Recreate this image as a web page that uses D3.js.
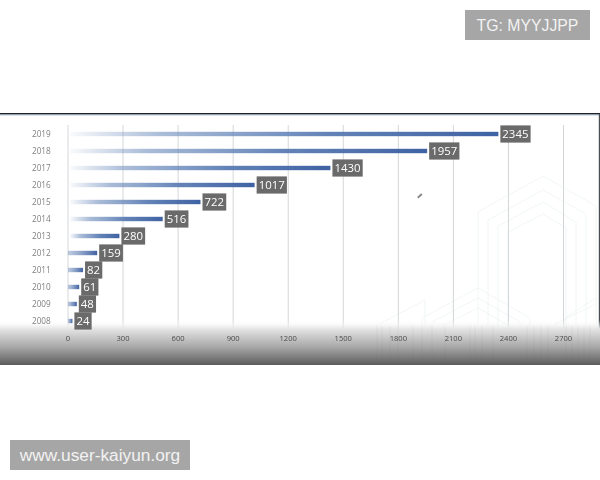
<!DOCTYPE html>
<html>
<head>
<meta charset="utf-8">
<script src="https://cdn.jsdelivr.net/npm/d3@7/dist/d3.min.js"></script>
<style>
  html, body { margin: 0; padding: 0; background: #fff; }
  svg { display: block; }
  .soft { filter: url(#soft); }
</style>
</head>
<body>
<svg id="chart" width="600" height="480"></svg>
<script>
const years = ["2019","2018","2017","2016","2015","2014","2013","2012","2011","2010","2009","2008"];
const counts = [2345,1957,1430,1017,722,516,280,159,82,61,48,24];
const xTicks = [0,300,600,900,1200,1500,1800,2100,2400,2700];
const topBadge = "TG: MYYJJPP";
const bottomBadge = "www.user-kaiyun.org";

// Isometric block outlines behind the plot, in plot pixels
const blockOutlines = [
  [[478,345],[478,212],[543,176],[596,206],[596,345]],
  [[488,345],[488,220],[543,190],[586,214],[586,345]],
  [[498,345],[498,226],[543,202],[576,222],[576,345]],
  [[508,345],[508,232],[543,214],[566,228],[566,345]],
  [[376,345],[376,326],[425,300],[425,345]],
  [[422,345],[422,318],[478,288],[530,318],[530,345]],
  [[432,345],[432,322],[478,298],[520,322],[520,345]],
  [[442,345],[442,326],[478,308],[510,326],[510,345]],
  [[565,345],[565,318],[596,298]],
  [[555,345],[555,324],[596,304]]
];
// Thin streaks where the pattern shows through the floor shading
const floorStreaks = [377,382,390,398,413,422,432,445,470,475,482,493,527,534,541,548,566,572,578,584,590];

const svg = d3.select("#chart");
const defs = svg.append("defs");

defs.append("filter").attr("id", "soft")
  .append("feGaussianBlur").attr("stdDeviation", 0.4);

const barFade = defs.append("linearGradient").attr("id", "barFade");
[[0, "#6f8cbc", 0.04], [0.22, "#7391bf", 0.62], [0.6, "#5f80b6", 0.98], [1, "#3f62a3", 1]]
  .forEach(([o, c, a]) => barFade.append("stop")
    .attr("offset", o).attr("stop-color", c).attr("stop-opacity", a));

const shortFade = defs.append("linearGradient").attr("id", "shortFade");
[[0, "#7f99c3", 0.5], [1, "#3f62a3", 1]]
  .forEach(([o, c, a]) => shortFade.append("stop")
    .attr("offset", o).attr("stop-color", c).attr("stop-opacity", a));

const floorFade = defs.append("linearGradient").attr("id", "floorFade")
  .attr("x1", 0).attr("x2", 0).attr("y1", 0).attr("y2", 1);
[[0, "#ffffff", 0], [0.2, "#e4e4e4", 1], [0.6, "#a8a8a8", 1], [1, "#5c5c5c", 1]]
  .forEach(([o, c, a]) => floorFade.append("stop")
    .attr("offset", o).attr("stop-color", c).attr("stop-opacity", a));

const x = d3.scaleLinear().domain([0, 2700]).range([68, 563.5]);
const y = d3.scaleBand().domain(years).range([125.5, 329.5]);

// Frame edges of the plot panel
svg.append("rect").attr("x", 0).attr("y", 113).attr("width", 600).attr("height", 1.6).attr("fill", "#1c2430");
svg.append("rect").attr("x", 0).attr("y", 114.6).attr("width", 600).attr("height", 1).attr("fill", "#c9d4de");
svg.append("rect").attr("x", 598.8).attr("y", 114).attr("width", 1.2).attr("height", 251).attr("fill", "#4a4f55");

// Faint block pattern
const outline = d3.line();
svg.append("g").selectAll("path").data(blockOutlines).join("path")
  .attr("d", d => outline(d))
  .attr("fill", "none")
  .attr("stroke", "#eef4f4")
  .attr("stroke-width", 0.8);

// Vertical gridlines
svg.append("g").attr("class", "soft").selectAll("line").data(xTicks).join("line")
  .attr("x1", d => x(d)).attr("x2", d => x(d))
  .attr("y1", 125).attr("y2", 329)
  .attr("stroke", "#d3d6d8").attr("stroke-width", 1);

// Grey floor fading up from the panel's lower edge
svg.append("rect").attr("x", 0).attr("y", 320).attr("width", 600).attr("height", 45)
  .attr("fill", "url(#floorFade)");
svg.append("g").attr("class", "soft").selectAll("line").data(floorStreaks).join("line")
  .attr("x1", d => d).attr("x2", d => d)
  .attr("y1", 326).attr("y2", 362)
  .attr("stroke", "#6e6e6e").attr("stroke-opacity", 0.09).attr("stroke-width", 0.8);

// Year labels
svg.append("g").attr("class", "soft").selectAll("text").data(years).join("text")
  .attr("x", 32).attr("y", d => y(d) + y.bandwidth() / 2)
  .attr("dy", "0.35em")
  .attr("font-family", "'Open Sans', sans-serif").attr("font-size", 8.2)
  .attr("fill", "#808080")
  .text(d => d);

// Value axis labels
svg.append("g").attr("class", "soft").selectAll("text").data(xTicks).join("text")
  .attr("x", d => x(d)).attr("y", 338.5)
  .attr("dy", "0.35em")
  .attr("text-anchor", "middle")
  .attr("font-family", "'Open Sans', sans-serif").attr("font-size", 7.6)
  .attr("fill", "#4c4c4c")
  .text(d => d);

const rows = years.map((year, i) => ({ year, count: counts[i] }));

// Bars, fading toward the baseline
svg.append("g").attr("class", "soft").selectAll("rect").data(rows).join("rect")
  .attr("x", d => x(0) + (d.count > 200 ? 2 : 0))
  .attr("y", d => y(d.year) + y.bandwidth() / 2 - 2.2)
  .attr("width", d => x(d.count) - x(0) - (d.count > 200 ? 2 : 0))
  .attr("height", 4.4)
  .attr("fill", d => d.count > 200 ? "url(#barFade)" : "url(#shortFade)");

// Value badges
const badges = svg.append("g").attr("class", "soft").selectAll("g").data(rows).join("g")
  .attr("transform", d => `translate(${x(d.count) + 2},${y(d.year) + y.bandwidth() / 2})`);
badges.append("text")
  .attr("class", "value")
  .attr("x", 2).attr("dy", "0.36em")
  .attr("font-family", "'Open Sans', sans-serif").attr("font-size", 11.4)
  .attr("fill", "#ffffff")
  .text(d => d.count);
badges.each(function () {
  const g = d3.select(this);
  const w = g.select("text").node().getComputedTextLength();
  g.insert("rect", "text")
    .attr("x", 0).attr("y", -8.6)
    .attr("width", w + 4.2).attr("height", 17.2)
    .attr("fill", "#6a6a6a");
});

// Small pencil mark in the plot
svg.append("line").attr("x1", 417.8).attr("y1", 197.8).attr("x2", 421.8).attr("y2", 194)
  .attr("stroke", "#8a8a8a").attr("stroke-width", 2).attr("class", "soft");

// Corner badges
function cornerBadge(bx, by, bw, bh, label, fontSize) {
  svg.append("rect").attr("x", bx).attr("y", by).attr("width", bw).attr("height", bh).attr("fill", "#a6a6a6");
  svg.append("text").attr("x", bx + bw / 2).attr("y", by + bh / 2).attr("dy", "0.36em")
    .attr("text-anchor", "middle")
    .attr("font-family", "'Liberation Sans', Arial, sans-serif")
    .attr("font-size", fontSize).attr("fill", "#f2f2f2")
    .text(label);
}
cornerBadge(465, 10, 125, 30, topBadge, 15.8);
cornerBadge(10, 440, 180, 30, bottomBadge, 17.3);
</script>
</body>
</html>
